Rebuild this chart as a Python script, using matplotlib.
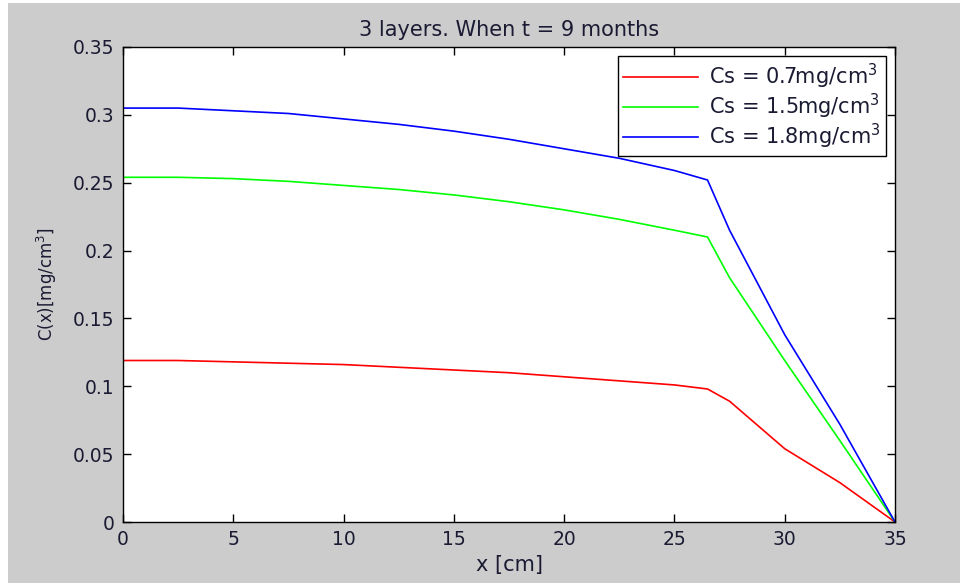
import numpy as np
import matplotlib
matplotlib.use("Agg")
from matplotlib import pyplot as plt
from matplotlib.patches import Rectangle

plt.rcParams['font.family'] = ['DejaVu Sans']

x = [0, 2.5, 5, 7.5, 10, 12.5, 15, 17.5, 20, 22.5, 25, 26.5, 27.5, 30, 32.5, 35]
c_07 = [0.119, 0.119, 0.118, 0.117, 0.116, 0.114, 0.112, 0.110, 0.107, 0.104, 0.101, 0.098,
        0.089, 0.054, 0.029, 0.0]
c_15 = [0.254, 0.254, 0.253, 0.251, 0.248, 0.245, 0.241, 0.236, 0.230, 0.223, 0.215, 0.210,
        0.180, 0.119, 0.060, 0.0]
c_18 = [0.305, 0.305, 0.303, 0.301, 0.297, 0.293, 0.288, 0.282, 0.275, 0.268, 0.259, 0.252,
        0.215, 0.138, 0.072, 0.0]
labels = ['Cs = 0.7mg/cm$^3$', 'Cs = 1.5mg/cm$^3$', 'Cs = 1.8mg/cm$^3$']
xticks = np.arange(0, 36, 5)
yticks = np.arange(0, 0.351, 0.05)
ytick_labels = ['0', '0.05', '0.1', '0.15', '0.2', '0.25', '0.3', '0.35']

txt = '#1a1a33'

fig = plt.figure(figsize=(9.6, 5.83), dpi=100, facecolor='white')
fig.patches.append(Rectangle((8/960, 0), 1, 1 - 3/583, transform=fig.transFigure,
                             facecolor='#cccccc', edgecolor='none', zorder=-10))
ax = fig.add_axes([123/960, 1 - 522/583, (895 - 123)/960, (522 - 47)/583])

ax.plot(x, c_07, color='#ff0000', lw=1.2, label=labels[0])
ax.plot(x, c_15, color='#00ff00', lw=1.2, label=labels[1])
ax.plot(x, c_18, color='#0000ff', lw=1.2, label=labels[2])

ax.set_xlim(0, 35)
ax.set_ylim(0, 0.35)
ax.set_xticks(xticks)
ax.set_xticklabels([str(t) for t in xticks])
ax.set_yticks(yticks)
ax.set_yticklabels(ytick_labels)
ax.tick_params(direction='in', top=True, right=True, length=6, width=1, labelsize=13.5,
               labelcolor=txt, pad=6)
for s in ax.spines.values():
    s.set_linewidth(1)

ax.set_title('3 layers. When t = 9 months', fontsize=15, color=txt, pad=8)
ax.set_xlabel('x [cm]', fontsize=15, color=txt, labelpad=4)
ax.set_ylabel('C(x)[mg/cm$^3$]', fontsize=12, color=txt, labelpad=10)

leg = ax.legend(loc='upper right', fontsize=15, frameon=True, fancybox=False,
                framealpha=1, handlelength=3.6, handletextpad=0.5, borderpad=0.25,
                borderaxespad=0.45, labelspacing=0.05)
leg.get_frame().set_edgecolor('black')
leg.get_frame().set_linewidth(1)
for t in leg.get_texts():
    t.set_color(txt)

fig.savefig('out.png', dpi=100, facecolor=fig.get_facecolor())
